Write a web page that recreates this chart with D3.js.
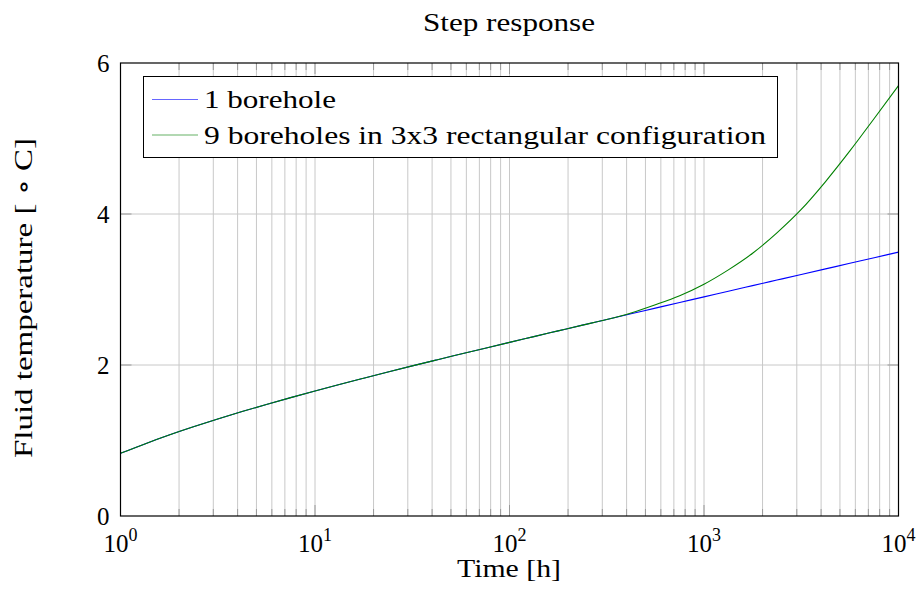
<!DOCTYPE html>
<html>
<head>
<meta charset="utf-8">
<script src="https://cdn.jsdelivr.net/npm/d3@7/dist/d3.min.js"></script>
<style>
  html, body { margin: 0; padding: 0; background: #fff; }
  svg text { font-family: "Liberation Serif", "DejaVu Serif", serif; fill: #000; }
</style>
</head>
<body>
<svg id="chart" width="920" height="599"></svg>
<script>
// Sample times [h], eight per decade (10^(k/8))
const timeHours = [1, 1.334, 1.778, 2.371, 3.162, 4.217, 5.623, 7.499,
                   10, 13.34, 17.78, 23.71, 31.62, 42.17, 56.23, 74.99,
                   100, 133.4, 177.8, 237.1, 316.2, 421.7, 562.3, 749.9,
                   1000, 1334, 1778, 2371, 3162, 4217, 5623, 7499, 10000];
// Mean fluid temperature [°C]
const oneBorehole = [0.830, 0.955, 1.072, 1.181, 1.285, 1.383, 1.477, 1.568,
                     1.656, 1.742, 1.825, 1.907, 1.988, 2.067, 2.145, 2.223,
                     2.300, 2.376, 2.452, 2.528, 2.603, 2.678, 2.753, 2.828,
                     2.902, 2.977, 3.051, 3.125, 3.199, 3.273, 3.347, 3.421, 3.495];
const nineBoreholes = [0.830, 0.955, 1.072, 1.181, 1.285, 1.383, 1.477, 1.568,
                       1.656, 1.742, 1.825, 1.907, 1.988, 2.067, 2.145, 2.223,
                       2.300, 2.376, 2.452, 2.528, 2.603, 2.690, 2.798, 2.918,
                       3.070, 3.260, 3.480, 3.750, 4.060, 4.430, 4.835, 5.265, 5.700];
const seriesNames = ["1 borehole", "9 boreholes in 3x3 rectangular configuration"];
const seriesColors = ["#0000ff", "#008000"];
const xDecades = [0, 1, 2, 3, 4];
const yTicks = [0, 2, 4, 6];

const svg = d3.select("#chart");
const plotLeft = 120.5, plotRight = 898.5, plotTop = 63, plotBottom = 516;

const x = d3.scaleLog().domain([1, 10000]).range([plotLeft, plotRight]);
const y = d3.scaleLinear().domain([0, 6]).range([plotBottom, plotTop]);

// Minor positions: 2..9 within every decade
const minorTicks = [];
xDecades.slice(0, -1).forEach(d => {
  for (let k = 2; k <= 9; k++) minorTicks.push(k * Math.pow(10, d));
});
const majorTicks = xDecades.map(d => Math.pow(10, d));

// Grid
const grid = svg.append("g").attr("stroke", "#c8c8c8").attr("stroke-width", 1);
grid.selectAll("line.vx").data(minorTicks.concat(majorTicks.slice(1, -1))).join("line")
  .attr("x1", d => x(d)).attr("x2", d => x(d)).attr("y1", plotTop).attr("y2", plotBottom);
grid.selectAll("line.hy").data(yTicks.slice(1, -1)).join("line")
  .attr("x1", plotLeft).attr("x2", plotRight).attr("y1", d => y(d)).attr("y2", d => y(d));

// Tick marks drawn inward on all four sides
const ticks = svg.append("g").attr("stroke", "#9a9a9a").attr("stroke-width", 1);
minorTicks.forEach(t => {
  ticks.append("line").attr("x1", x(t)).attr("x2", x(t)).attr("y1", plotBottom).attr("y2", plotBottom - 7);
  ticks.append("line").attr("x1", x(t)).attr("x2", x(t)).attr("y1", plotTop).attr("y2", plotTop + 7);
});
majorTicks.slice(1, -1).forEach(t => {
  ticks.append("line").attr("x1", x(t)).attr("x2", x(t)).attr("y1", plotBottom).attr("y2", plotBottom - 11);
  ticks.append("line").attr("x1", x(t)).attr("x2", x(t)).attr("y1", plotTop).attr("y2", plotTop + 11);
});
yTicks.slice(1, -1).forEach(v => {
  ticks.append("line").attr("x1", plotLeft).attr("x2", plotLeft + 11).attr("y1", y(v)).attr("y2", y(v));
  ticks.append("line").attr("x1", plotRight).attr("x2", plotRight - 11).attr("y1", y(v)).attr("y2", y(v));
});

// Curves
const line = d3.line()
  .x(d => x(d[0])).y(d => y(d[1]))
  .curve(d3.curveMonotoneX);
[oneBorehole, nineBoreholes].forEach((vals, i) => {
  svg.append("path")
    .datum(timeHours.map((t, j) => [t, vals[j]]))
    .attr("fill", "none")
    .attr("stroke", seriesColors[i])
    .attr("stroke-width", 1.1)
    .attr("d", line);
});

// Frame
svg.append("rect")
  .attr("x", plotLeft).attr("y", plotTop)
  .attr("width", plotRight - plotLeft).attr("height", plotBottom - plotTop)
  .attr("fill", "none").attr("stroke", "#000").attr("stroke-width", 1.2);

// Y tick labels
svg.append("g").selectAll("text").data(yTicks).join("text")
  .attr("x", plotLeft - 11).attr("y", d => y(d) + 8.5)
  .attr("text-anchor", "end")
  .attr("font-size", 25).text(d => d);

// X tick labels 10^n
const xl = svg.append("g").selectAll("text").data(xDecades).join("text")
  .attr("x", d => x(Math.pow(10, d)))
  .attr("y", 552)
  .attr("text-anchor", "middle")
  .attr("font-size", 25);
xl.append("tspan").text("10");
xl.append("tspan").attr("dy", -11).attr("font-size", 18).text(d => d);

// Title and axis labels (wide serif set: fixed advance widths)
svg.append("text").attr("x", 509).attr("y", 31).attr("text-anchor", "middle")
  .attr("font-size", 25).attr("textLength", 172).attr("lengthAdjust", "spacingAndGlyphs")
  .text("Step response");
svg.append("text").attr("x", 509).attr("y", 577).attr("text-anchor", "middle")
  .attr("font-size", 25).attr("textLength", 104).attr("lengthAdjust", "spacingAndGlyphs")
  .text("Time [h]");
svg.append("text")
  .attr("transform", "translate(32,298) rotate(-90)")
  .attr("text-anchor", "middle")
  .attr("font-size", 25).attr("textLength", 320).attr("lengthAdjust", "spacingAndGlyphs")
  .text("Fluid temperature [ \u2218 C]");

// Legend
const legendWidths = [132, 562];
const lg = svg.append("g");
lg.append("rect").attr("x", 143.5).attr("y", 76.5).attr("width", 634).attr("height", 81)
  .attr("fill", "#fff").attr("stroke", "#000").attr("stroke-width", 1);
seriesNames.forEach((name, i) => {
  const cy = 99.5 + i * 35.5;
  lg.append("line").attr("x1", 152).attr("x2", 198).attr("y1", cy).attr("y2", cy)
    .attr("stroke", seriesColors[i]).attr("stroke-width", 1.1).attr("stroke-opacity", 0.6);
  lg.append("text").attr("x", 204).attr("y", cy + 8.7).attr("font-size", 25)
    .attr("textLength", legendWidths[i]).attr("lengthAdjust", "spacingAndGlyphs")
    .text(name);
});
</script>
</body>
</html>
